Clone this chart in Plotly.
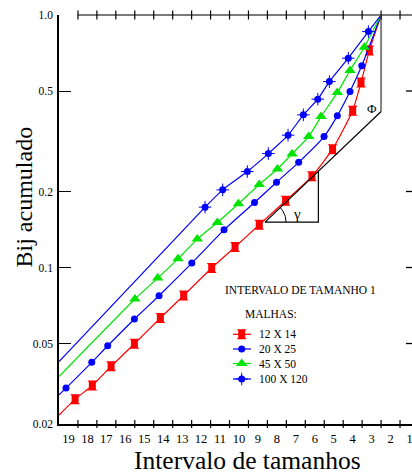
import math
import plotly.graph_objects as go

# ---- categories / ticks -------------------------------------------------
intervals = list(range(19, 0, -1))               # size intervals, coarse -> fine
interval_labels = [str(n) for n in intervals]

y_tick_vals = [0.024, 0.05, 0.1, 0.2, 0.5, 1.0]
y_tick_text = ["0.02", "0.05", "0.1", "0.2", "0.5", "1.0"]

# ---- cumulative Bij per mesh (x = position on the size-interval scale) --
m12_x = [18.65, 17.74, 16.75, 15.52, 14.15, 12.92, 11.44, 10.21, 8.93, 7.54, 6.15, 5.06, 4.00, 3.56, 3.12]
m12_y = [0.0301, 0.0341, 0.0406, 0.0499, 0.0631, 0.0775, 0.0995, 0.1205, 0.1476, 0.1837, 0.2297, 0.2942, 0.418, 0.540, 0.723]

m20_x = [19.13, 17.77, 16.93, 15.52, 14.22, 12.49, 10.79, 9.18, 8.02, 6.85, 5.51, 4.81, 4.14, 3.52]
m20_y = [0.0333, 0.0421, 0.0490, 0.0625, 0.0773, 0.1041, 0.141, 0.1809, 0.2175, 0.2609, 0.330, 0.3987, 0.4973, 0.629]

m45_x = [15.49, 14.29, 13.22, 12.20, 11.14, 10.03, 8.93, 7.97, 7.20, 6.32, 5.67, 4.81, 4.14, 3.385]
m45_y = [0.0750, 0.0908, 0.1082, 0.1296, 0.1507, 0.1788, 0.2131, 0.2455, 0.2818, 0.330, 0.396, 0.493, 0.6025, 0.7456]

m100_x = [11.79, 10.86, 9.56, 8.45, 7.41, 6.60, 5.84, 5.23, 4.23, 3.17]
m100_y = [0.1734, 0.2030, 0.2399, 0.2826, 0.3343, 0.4023, 0.4641, 0.5448, 0.6745, 0.8597]

# fitted curves start at the coarse end and all close at (2.5, 1.0)
curve_start_x = 19.5
curve_start_y = {"12 X 14": 0.026, "20 X 25": 0.0313, "45 X 50": 0.0370, "100 X 120": 0.0424}
curve_end = (2.5, 1.0)

# construction lines: tangent of slope gamma and the Phi intercept
gamma_vertex = (8.625, 0.1513)
gamma_corner_x = 5.81
gamma_top_y = 0.2404
phi_point = (2.5, 0.4146)
gamma_label = (6.92, 0.1632)
phi_label = (2.96, 0.4248)

# ---- styling -------------------------------------------------------------
W, H = 412, 475
M_L, M_R, M_T, M_B = 59, 0, 15, 51
PW, PH = W - M_L - M_R, H - M_T - M_B
X_RANGE = [19.5, 0.868]
Y_MIN = y_tick_vals[0]
SERIF = "Liberation Serif, Times New Roman, serif"
RED, BLUE, GREEN = "#ff0000", "#0000ff", "#00e400"

series = [
    ("12 X 14", m12_x, m12_y, RED),
    ("20 X 25", m20_x, m20_y, BLUE),
    ("45 X 50", m45_x, m45_y, GREEN),
    ("100 X 120", m100_x, m100_y, BLUE),
]


def marker_layers(name, color):
    """Marker symbol(s) used for each mesh, drawn as stacked layers."""
    if name == "12 X 14":
        return [dict(symbol="hourglass", size=10, color=color),
                dict(symbol="square", size=7, color=color)]
    if name == "20 X 25":
        return [dict(symbol="circle", size=7, color=color)]
    if name == "45 X 50":
        return [dict(symbol="triangle-up", size=10, color=color)]
    return [dict(symbol="circle", size=7, color=color),
            dict(symbol="cross-thin", size=9, color=color,
                 line=dict(color=color, width=1))]


fig = go.Figure()

for name, xs, ys, color in series:
    cx = [curve_start_x] + xs + [curve_end[0]]
    cy = [curve_start_y[name]] + ys + [curve_end[1]]
    fig.add_trace(go.Scatter(x=cx, y=cy, mode="lines", name=name,
                             line=dict(color=color, width=1.2, shape="spline", smoothing=0.5),
                             hoverinfo="skip"))
    for mk in marker_layers(name, color):
        fig.add_trace(go.Scatter(x=xs, y=ys, mode="markers", name=name,
                                 marker=mk, showlegend=False))

# Phi: vertical drop from the closing point, then the tangent line
fig.add_trace(go.Scatter(x=[curve_end[0], phi_point[0]], y=[curve_end[1], phi_point[1]],
                         mode="lines", line=dict(color="#808080", width=2), hoverinfo="skip"))
fig.add_trace(go.Scatter(x=[phi_point[0], gamma_vertex[0], gamma_corner_x, gamma_corner_x],
                         y=[phi_point[1], gamma_vertex[1], gamma_vertex[1], gamma_top_y],
                         mode="lines", line=dict(color="black", width=1.2), hoverinfo="skip"))

# angle arc at the gamma vertex (radius in pixels)
px_per_x = PW / (X_RANGE[0] - X_RANGE[1])
px_per_dec = PH / (0 - math.log10(Y_MIN))
tan_angle = math.atan((math.log10(phi_point[1]) - math.log10(gamma_vertex[1])) * px_per_dec /
                      ((gamma_vertex[0] - phi_point[0]) * px_per_x))
R = 21
arc_x, arc_y = [], []
for i in range(21):
    a = tan_angle * i / 20
    arc_x.append(gamma_vertex[0] - R * math.cos(a) / px_per_x)
    arc_y.append(10 ** (math.log10(gamma_vertex[1]) + R * math.sin(a) / px_per_dec))
fig.add_trace(go.Scatter(x=arc_x, y=arc_y, mode="lines",
                         line=dict(color="black", width=1), hoverinfo="skip"))

# ---- legend key drawn on an overlay in plot-fraction units ----------------
def fx(px):
    return (px - M_L) / PW


def fy(py):
    return (M_T + PH - py) / PH


key_rows = [334.3, 349.0, 363.5, 379.0]
for (name, xs, ys, color), row in zip(series, key_rows):
    fig.add_trace(go.Scatter(x=[fx(233), fx(251)], y=[fy(row)] * 2, mode="lines",
                             xaxis="x2", yaxis="y2", line=dict(color=color, width=1.2),
                             hoverinfo="skip"))
    for mk in marker_layers(name, color):
        fig.add_trace(go.Scatter(x=[fx(241.7)], y=[fy(row)], mode="markers",
                                 xaxis="x2", yaxis="y2", marker=mk, hoverinfo="skip"))

annotations = [
    dict(text="INTERVALO DE TAMANHO 1", x=fx(223), y=fy(290), xanchor="left", yanchor="middle"),
    dict(text="MALHAS:", x=fx(243), y=fy(314), xanchor="left", yanchor="middle"),
]
for (name, *_), row in zip(series, key_rows):
    annotations.append(dict(text=name, x=fx(257), y=fy(row), xanchor="left", yanchor="middle"))
for a in annotations:
    a.update(xref="paper", yref="paper", showarrow=False,
             font=dict(family=SERIF, size=11.5, color="black"))

annotations += [
    dict(text="γ", x=gamma_label[0], y=math.log10(gamma_label[1]), xref="x", yref="y",
         showarrow=False, font=dict(family=SERIF, size=15, color="black")),
    dict(text="Φ", x=phi_label[0], y=math.log10(phi_label[1]), xref="x", yref="y",
         showarrow=False, font=dict(family=SERIF, size=13, color="black")),
    dict(text="Intervalo de tamanhos", x=fx(247.5), y=fy(460.8), xref="paper", yref="paper",
         showarrow=False, xanchor="center", yanchor="middle", borderpad=0,
         font=dict(family=SERIF, size=25.5, color="black")),
    dict(text="Bij acumulado", x=fx(23), y=fy(197.5), xref="paper", yref="paper",
         showarrow=False, textangle=-90, xanchor="center", yanchor="middle",
         font=dict(family=SERIF, size=24, color="black")),
]

# ---- axis decorations: crossing ticks, top rule, right-side ticks ---------
tick_pos = [n + 0.5 for n in intervals[1:]]
shapes = [dict(type="line", xref="x", yref="paper", x0=tick_pos[0], x1=X_RANGE[1],
               y0=1, y1=1, line=dict(color="#7a7a7a", width=2))]
for p in tick_pos:
    shapes.append(dict(type="line", xref="x", yref="paper", x0=p, x1=p,
                       y0=-4 / PH, y1=4 / PH, line=dict(color="black", width=1.2)))
    shapes.append(dict(type="line", xref="x", yref="paper", x0=p, x1=p,
                       y0=1 - 4.5 / PH, y1=1 + 4.5 / PH, line=dict(color="black", width=1.2)))
for v in y_tick_vals[1:-1]:
    yy = (math.log10(v) - math.log10(Y_MIN)) / (0 - math.log10(Y_MIN))
    shapes.append(dict(type="line", xref="paper", yref="paper", x0=1 - 6 / PW, x1=1,
                       y0=yy, y1=yy, line=dict(color="black", width=1.3)))

fig.update_layout(
    width=W, height=H,
    margin=dict(l=M_L, r=M_R, t=M_T, b=M_B, pad=0),
    paper_bgcolor="white", plot_bgcolor="white",
    showlegend=False,
    font=dict(family=SERIF, color="black"),
    xaxis=dict(range=X_RANGE, tickvals=intervals, ticktext=interval_labels, ticks="",
               showline=True, linecolor="black", linewidth=1.5, showgrid=False, zeroline=False,
               tickfont=dict(family=SERIF, size=12.5, color="black"), ticklabelstandoff=2,
               ticklabeloverflow="allow"),
    yaxis=dict(type="log", range=[math.log10(Y_MIN), 0], tickvals=y_tick_vals, ticktext=y_tick_text,
               ticks="inside", ticklen=12, tickwidth=1.3, tickcolor="black",
               showline=True, linecolor="black", linewidth=1.5, showgrid=False, zeroline=False,
               tickfont=dict(family=SERIF, size=11.5, color="black"), ticklabelstandoff=2),
    xaxis2=dict(overlaying="x", range=[0, 1], visible=False, fixedrange=True),
    yaxis2=dict(overlaying="y", range=[0, 1], visible=False, fixedrange=True),
    annotations=annotations,
    shapes=shapes,
)

fig.write_html("out.html")
